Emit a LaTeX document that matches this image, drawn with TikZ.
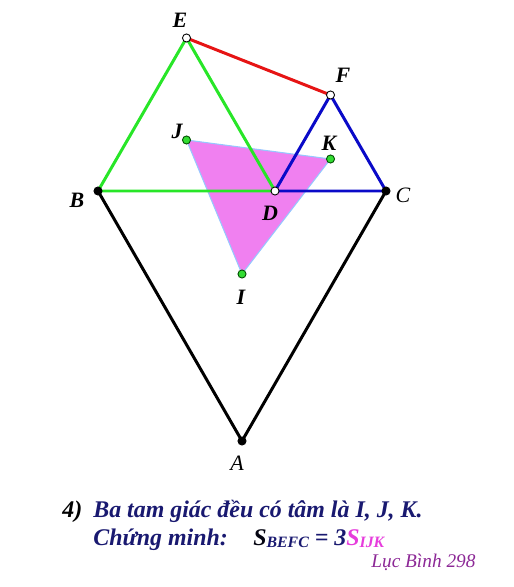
\documentclass[tikz,border=0pt]{standalone}
\usepackage{fontspec}
\setmainfont{Liberation Serif}
\usetikzlibrary{positioning}
\definecolor{navy}{RGB}{25,25,112}
\definecolor{hong}{RGB}{240,128,240}
\definecolor{vien}{RGB}{150,200,255}
\definecolor{xanhla}{RGB}{40,230,40}
\definecolor{xanh}{RGB}{10,10,200}
\definecolor{do}{RGB}{230,20,20}
\definecolor{tim}{RGB}{140,40,150}
\definecolor{diemxanh}{RGB}{50,220,50}
\definecolor{hongdam}{RGB}{230,60,220}

\begin{document}
\begin{tikzpicture}[x=0.02cm, y=-0.02cm,
    every node/.style={font=\fontsize{12.5}{14}\selectfont\bfseries\itshape},
    canh/.style={line width=1.7pt, line cap=round},
    diem/.style={line width=0.5pt},
    nhan/.style={inner sep=0pt},
    chu/.style={anchor=base west, inner sep=0pt, text=navy,
                font=\fontsize{13.6}{16}\selectfont\bfseries\itshape},
]
\useasboundingbox (0,0) rectangle (513,587);

% --- Các đỉnh ---------------------------------------------------------
\coordinate (B) at (98,191);
\coordinate (D) at (275,191);
\coordinate (C) at (386,191);
\coordinate (E) at (186.5,38);
\coordinate (F) at (330.5,95);
\coordinate (A) at (242,441);
% tâm các tam giác đều
\coordinate (I) at (242,274);
\coordinate (J) at (186.5,140);
\coordinate (K) at (330.5,159);

% --- Tam giác IJK (tô hồng) ------------------------------------------
\filldraw[fill=hong, draw=vien, line width=0.6pt] (I) -- (J) -- (K) -- cycle;

% --- Các cạnh ---------------------------------------------------------
\draw[canh, black] (B) -- (A) -- (C);
\draw[canh, xanhla] (B) -- (D) -- (E) -- cycle;
\draw[canh, xanh] (D) -- (C) -- (F) -- cycle;
\draw[canh, do] (E) -- (F);

% --- Các điểm ---------------------------------------------------------
\foreach \p in {B,C,A}
    \filldraw[diem, fill=black] (\p) circle (2.3pt);
\foreach \p in {E,F,D}
    \filldraw[diem, fill=white] (\p) circle (2.3pt);
\foreach \p in {I,J,K}
    \filldraw[diem, fill=diemxanh, draw=black!70!green] (\p) circle (2.3pt);

% --- Nhãn -------------------------------------------------------------
\node[nhan] (lE) at (180,20) {E};
\node[nhan] (lF) at (343,75) {F};
\node[nhan] (lJ) at (177,131) {J};
\node[nhan] (lK) at (329,143) {K};
\node[nhan] (lB) at (77,200) {B};
\node[nhan] (lD) at (270,213) {D};
\node[nhan, font=\fontsize{12.5}{14}\selectfont\itshape] (lC) at (403,195) {C};
\node[nhan] (lI) at (241,297) {I};
\node[nhan, font=\fontsize{12.5}{14}\selectfont\itshape] (lA) at (237,463) {A};

% --- Đề bài -----------------------------------------------------------
\node[chu, text=black] (so) at (62,517) {4)};
\node[chu] (dong1) at (93,517) {Ba tam giác đều có tâm là I, J, K.};
\node[chu] (dong2) at (93,545) {Chứng minh:};
\node[chu] (congthuc) at (253,545)
    {\textcolor{black!85!navy}{S}\raisebox{-0.25ex}{\fontsize{9}{10}\selectfont BEFC} = 3\textcolor{hongdam}{S\raisebox{-0.25ex}{\fontsize{9}{10}\selectfont IJK}}};

% --- Chữ ký -----------------------------------------------------------
\node[anchor=base west, inner sep=0pt, text=tim, font=\fontsize{11}{12}\selectfont\itshape] (ky) at (371,567) {Lục Bình 298};

\end{tikzpicture}
\end{document}
